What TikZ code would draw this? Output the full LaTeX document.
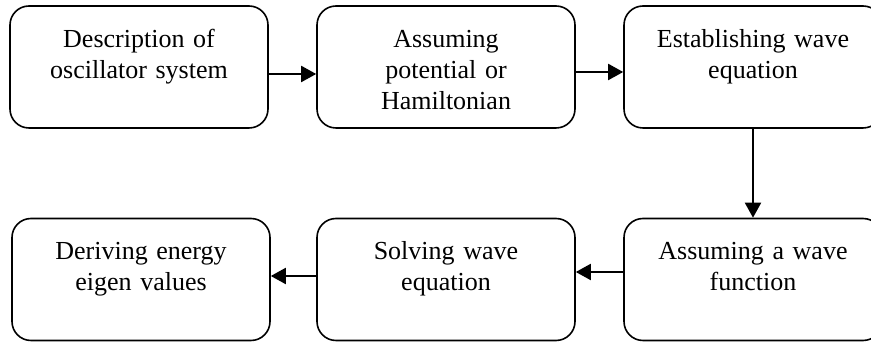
\documentclass[tikz,border=0pt]{standalone}
\usepackage{fontspec}
\setmainfont{Liberation Serif}
\usetikzlibrary{arrows.meta,positioning}
\tikzset{
  stage/.style={rectangle, rounded corners=19pt, draw=black, line width=1.6pt,
    minimum width=258pt, minimum height=122pt, inner sep=0pt},
  stagetext/.style={align=center, text width=250pt, inner sep=0pt, anchor=base,
    font=\fontsize{26}{31}\selectfont},
  flow/.style={-{Triangle[length=15pt, width=16pt]}, line width=2pt, draw=black},
}

\begin{document}
\begin{tikzpicture}[x=1pt, y=1pt]
  \useasboundingbox (0,0) rectangle (871,342);
  % top row
  \node[stage] (desc) at (139,275) {};
  \node[stage] (pot) at (446,275) {};
  \node[stage] (weq) at (753,275) {};
  % bottom row
  \node[stage] (wfn) at (753,62.5) {};
  \node[stage] (solve) at (446,62.5) {};
  \node[stage] (eig) at (141,62.5) {};
  \node[stagetext] (descT) at ([yshift=-42pt]desc.north) {Description of\\oscillator system};
  \node[stagetext] (potT) at ([yshift=-42pt]pot.north) {Assuming\\potential or\\Hamiltonian};
  \node[stagetext] (weqT) at ([yshift=-42pt]weq.north) {Establishing wave\\equation};
  \node[stagetext] (wfnT) at ([yshift=-42pt]wfn.north) {Assuming a wave\\function};
  \node[stagetext] (solveT) at ([yshift=-42pt]solve.north) {Solving wave\\equation};
  \node[stagetext] (eigT) at ([yshift=-42pt]eig.north) {Deriving energy\\eigen values};
  \draw[flow] ([yshift=-7pt]desc.east) -- ([yshift=-7pt]pot.west);
  \draw[flow] ([yshift=-5pt]pot.east) -- ([yshift=-5pt]weq.west);
  \draw[flow] (weq.south) -- (wfn.north);
  \draw[flow] ([yshift=7.5pt]wfn.west) -- ([yshift=7.5pt]solve.east);
  \draw[flow] ([yshift=3.5pt]solve.west) -- ([yshift=3.5pt]eig.east);
\end{tikzpicture}
\end{document}
